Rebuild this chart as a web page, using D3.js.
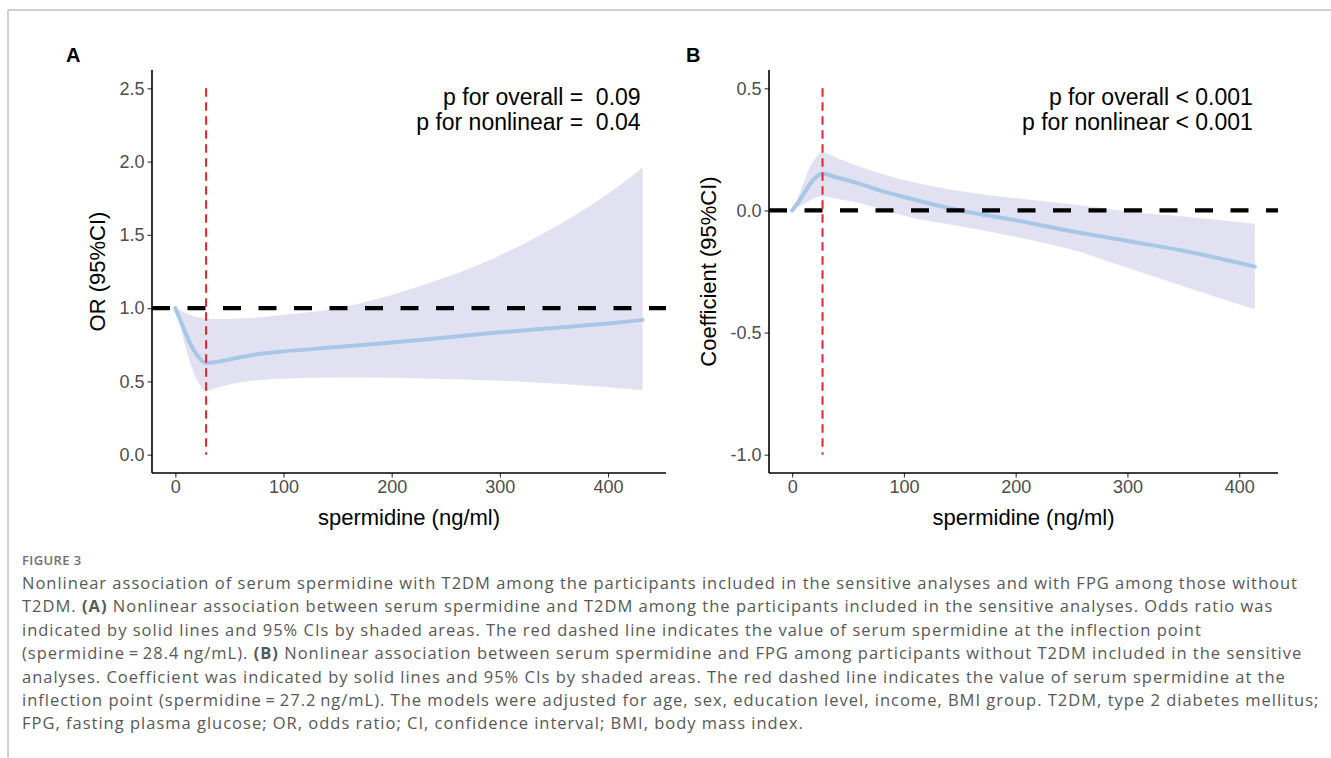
<!DOCTYPE html>
<html>
<head>
<meta charset="utf-8">
<style>
  body { margin: 0; background: #fff; }
  text { font-family: "Liberation Sans", Arial, sans-serif; }
  .cap { font-family: "Open Sans", "Noto Sans", sans-serif; }
</style>
</head>
<body>
<svg id="fig" width="1331" height="758"></svg>
<script src="https://d3js.org/d3.v7.min.js"></script>
<script>
// ---- panel A: OR of T2DM vs serum spermidine ----
var spdA   = [0, 5, 10, 15, 20, 28.4, 40, 60, 80, 100, 150, 200, 250, 300, 350, 400, 432];
var orFit  = [1.0, 0.91, 0.82, 0.74, 0.68, 0.625, 0.635, 0.665, 0.69, 0.705, 0.735, 0.765, 0.80, 0.835, 0.865, 0.895, 0.92];
var orLow  = [1.0, 0.86, 0.72, 0.60, 0.51, 0.435, 0.46, 0.495, 0.51, 0.52, 0.527, 0.525, 0.517, 0.505, 0.485, 0.46, 0.44];
var orHigh = [1.0, 0.985, 0.965, 0.95, 0.94, 0.93, 0.925, 0.93, 0.94, 0.955, 1.0, 1.09, 1.21, 1.36, 1.55, 1.78, 1.96];
var cutA = 28.4, refA = 1.0, redSpanA = [0, 2.5];
var yTicksA = [0, 0.5, 1.0, 1.5, 2.0, 2.5];
var pTextA = ["p for overall =  0.09", "p for nonlinear =  0.04"];

// ---- panel B: coefficient of FPG vs serum spermidine ----
var spdB    = [0, 5, 10, 15, 20, 27.2, 40, 60, 80, 100, 150, 200, 250, 300, 350, 414];
var coefFit = [0, 0.03, 0.065, 0.10, 0.13, 0.15, 0.135, 0.11, 0.08, 0.055, 0.0, -0.04, -0.085, -0.125, -0.165, -0.23];
var coefLow = [0, 0.012, 0.025, 0.038, 0.05, 0.058, 0.048, 0.03, 0.005, -0.022, -0.065, -0.108, -0.16, -0.235, -0.31, -0.405];
var coefHigh = [0, 0.05, 0.11, 0.17, 0.21, 0.237, 0.215, 0.18, 0.15, 0.125, 0.08, 0.05, 0.025, -0.004, -0.025, -0.055];
var cutB = 27.2, refB = 0.0, redSpanB = [-1.0, 0.5];
var yTicksB = [-1.0, -0.5, 0.0, 0.5];
var pTextB = ["p for overall < 0.001", "p for nonlinear < 0.001"];

var xTicks = [0, 100, 200, 300, 400];

var caption = [
  [["Nonlinear association of serum spermidine with T2DM among the participants included in the sensitive analyses and with FPG among those without", 0]],
  [["T2DM. ", 0], ["(A)", 1], [" Nonlinear association between serum spermidine and T2DM among the participants included in the sensitive analyses. Odds ratio was", 0]],
  [["indicated by solid lines and 95% CIs by shaded areas. The red dashed line indicates the value of serum spermidine at the inflection point", 0]],
  [["(spermidine\u2009=\u200928.4\u2009ng/mL). ", 0], ["(B)", 1], [" Nonlinear association between serum spermidine and FPG among participants without T2DM included in the sensitive", 0]],
  [["analyses. Coefficient was indicated by solid lines and 95% CIs by shaded areas. The red dashed line indicates the value of serum spermidine at the", 0]],
  [["inflection point (spermidine\u2009=\u200927.2\u2009ng/mL). The models were adjusted for age, sex, education level, income, BMI group. T2DM, type 2 diabetes mellitus;", 0]],
  [["FPG, fasting plasma glucose; OR, odds ratio; CI, confidence interval; BMI, body mass index.", 0]]
];

var svg = d3.select("#fig");

// frame
svg.append("line").attr("x1", 8).attr("y1", 10).attr("x2", 1331).attr("y2", 10)
  .attr("stroke", "#a0a0a0").attr("stroke-width", 1);
svg.append("line").attr("x1", 8).attr("y1", 10).attr("x2", 8).attr("y2", 758)
  .attr("stroke", "#a0a0a0").attr("stroke-width", 1);

function expand(ext) {
  var pad = (ext[1] - ext[0]) * 0.05;
  return [ext[0] - pad, ext[1] + pad];
}

var fmt = function(d) { return d3.format(".1f")(d).replace("\u2212", "-"); };

function drawPanel(p) {
  var g = svg.append("g");
  var x = d3.scaleLinear()
      .domain(expand(d3.extent(p.xs)))
      .range([p.left, p.right]);
  var y = d3.scaleLinear()
      .domain(expand(d3.extent(p.low.concat(p.high, p.redSpan))))
      .range([p.bottom, p.top]);

  var rows = p.xs.map(function(d, i) {
    return { x: d, fit: p.fit[i], lo: p.low[i], hi: p.high[i] };
  });

  g.append("path").datum(rows)
    .attr("fill", "#e1e1f1")
    .attr("d", d3.area().curve(d3.curveMonotoneX)
      .x(function(d) { return x(d.x); })
      .y0(function(d) { return y(d.lo); })
      .y1(function(d) { return y(d.hi); }));

  g.append("path").datum(rows)
    .attr("fill", "none")
    .attr("stroke", "#a8c7e7")
    .attr("stroke-width", 4)
    .attr("stroke-linecap", "round")
    .attr("d", d3.line().curve(d3.curveMonotoneX)
      .x(function(d) { return x(d.x); })
      .y(function(d) { return y(d.fit); }));

  // reference line
  g.append("line")
    .attr("x1", p.left).attr("x2", p.right)
    .attr("y1", y(p.ref)).attr("y2", y(p.ref))
    .attr("stroke", "#000").attr("stroke-width", 4.2)
    .attr("stroke-dasharray", "18,17.5");

  // inflection point
  g.append("line")
    .attr("x1", x(p.cut)).attr("x2", x(p.cut))
    .attr("y1", y(p.redSpan[1])).attr("y2", y(p.redSpan[0]))
    .attr("stroke", "#e8212b").attr("stroke-width", 2)
    .attr("stroke-dasharray", "8.5,5.5");

  // axes
  var ax = g.append("g").attr("transform", "translate(0," + p.bottom + ")")
    .call(d3.axisBottom(x).tickValues(xTicks).tickSize(4.5).tickPadding(3).tickFormat(d3.format("d")));
  var ay = g.append("g").attr("transform", "translate(" + p.left + ",0)")
    .call(d3.axisLeft(y).tickValues(p.yTicks).tickSize(4.5).tickPadding(3).tickFormat(fmt));
  [ax, ay].forEach(function(a) {
    a.select(".domain").remove();
    a.selectAll(".tick line").attr("stroke", "#333").attr("stroke-width", 1.1);
    a.selectAll(".tick text").attr("fill", "#4d4d4d").style("font-size", "18px")
      .style("font-family", "'Liberation Sans', Arial, sans-serif");
  });
  g.append("line").attr("x1", p.left).attr("x2", p.right)
    .attr("y1", p.bottom).attr("y2", p.bottom).attr("stroke", "#000").attr("stroke-width", 1.6);
  g.append("line").attr("x1", p.left).attr("x2", p.left)
    .attr("y1", p.top).attr("y2", p.bottom).attr("stroke", "#000").attr("stroke-width", 1.6);

  // titles
  g.append("text")
    .attr("x", (p.left + p.right) / 2).attr("y", 525)
    .attr("text-anchor", "middle").style("font-size", "22px")
    .text("spermidine (ng/ml)");
  g.append("text")
    .attr("transform", "translate(" + p.ytx + "," + ((p.top + p.bottom) / 2) + ") rotate(-90)")
    .attr("text-anchor", "middle").style("font-size", "22px")
    .text(p.ylab);

  // p values
  p.pText.forEach(function(t, i) {
    g.append("text")
      .attr("x", x(d3.max(p.xs)) - 2).attr("y", 105 + i * 24.5)
      .attr("text-anchor", "end").style("font-size", "23px")
      .style("white-space", "pre")
      .text(t);
  });

  svg.append("text").attr("x", p.labx).attr("y", 62)
    .style("font-size", "20px").style("font-weight", "bold").text(p.tag);
}

drawPanel({
  xs: spdA, fit: orFit, low: orLow, high: orHigh, cut: cutA, ref: refA, redSpan: redSpanA,
  yTicks: yTicksA, pText: pTextA, ylab: "OR (95%CI)", tag: "A",
  left: 152, right: 666, top: 70, bottom: 473, ytx: 105, labx: 66
});
drawPanel({
  xs: spdB, fit: coefFit, low: coefLow, high: coefHigh, cut: cutB, ref: refB, redSpan: redSpanB,
  yTicks: yTicksB, pText: pTextB, ylab: "Coefficient (95%CI)", tag: "B",
  left: 769, right: 1278, top: 70, bottom: 473, ytx: 716, labx: 686
});

// caption
svg.append("text").attr("class", "cap")
  .attr("x", 22).attr("y", 565)
  .attr("fill", "#6f6f6f").style("font-size", "13px").style("font-weight", 600)
  .style("letter-spacing", "0.4px")
  .text("FIGURE 3");

var lines = caption.map(function(segs, i) {
  var t = svg.append("text").attr("class", "cap")
    .attr("x", 22).attr("y", 589 + i * 23.4)
    .attr("fill", "#585858").style("font-size", "16.5px");
  segs.forEach(function(s) {
    t.append("tspan").style("font-weight", s[1] ? 700 : 400).text(s[0]);
  });
  return t;
});
// spread the letters so the first line spans the figure width, as in the source
var n0 = caption[0][0][0].length;
var w0 = lines[0].node().getComputedTextLength();
var ls = (1276 - w0) / n0;
lines.forEach(function(t) { t.style("letter-spacing", ls + "px"); });
</script>
</body>
</html>
